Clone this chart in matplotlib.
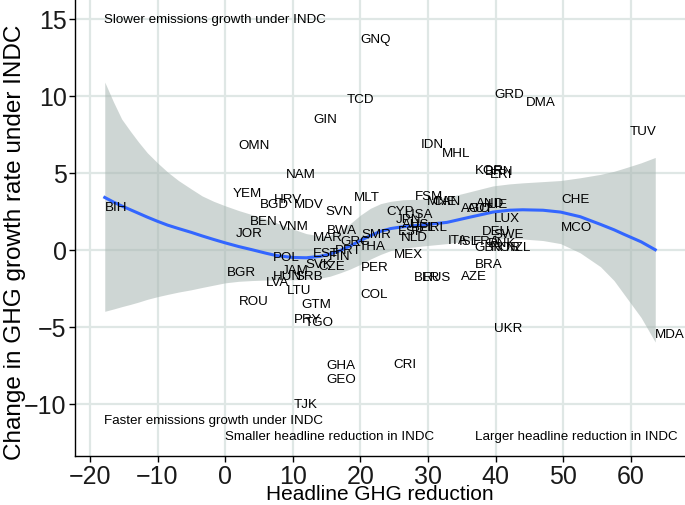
import numpy as np
import matplotlib.pyplot as plt

plt.rcParams['font.family'] = ['Liberation Sans', 'DejaVu Sans']

# country labels (placed left-aligned at the point)
countries = ["BIH", "GNQ", "TCD", "GIN", "OMN", "NAM", "YEM", "HRV", "BGD", "MDV",
             "SVN", "MLT", "BEN", "VNM", "JOR", "BWA", "MAR", "SMR", "GRC", "PRT",
             "THA", "EST", "FIN", "SVK", "CZE", "POL", "BGR", "JAM", "HUN", "SRB",
             "LVA", "LTU", "ROU", "GTM", "PRY", "TGO", "PER", "COL", "GHA", "GEO",
             "CRI", "TJK", "MEX", "NLD", "ESP", "AUS", "JPN", "CYP", "USA", "BEL",
             "IRL", "FSM", "MNE", "CAN", "IDN", "MHL", "KOR", "BRN", "ERI", "GRD",
             "DMA", "TUV", "CHE", "MCO", "MDA", "UKR", "AND", "LIE", "AGO", "AUT",
             "LUX", "DEU", "SWE", "ITA", "ISL", "FRA", "GBR", "DNK", "NOR", "NZL",
             "BRA", "AZE", "BLR", "RUS"]
reduction = [-17.8, 20.0, 18.0, 13.0, 2.0, 9.0, 1.1, 7.2, 5.1, 10.1,
             14.9, 19.0, 3.7, 7.9, 1.5, 15.0, 13.0, 20.1, 17.1, 16.3,
             19.8, 13.0, 15.3, 11.9, 13.8, 7.0, 0.2, 8.3, 7.0, 10.4,
             6.0, 9.1, 2.1, 11.2, 10.1, 11.8, 20.0, 20.0, 14.9, 14.9,
             24.9, 10.1, 24.9, 26.0, 25.6, 26.2, 25.3, 23.9, 26.6, 27.5,
             29.8, 28.0, 29.9, 30.6, 28.9, 32.0, 36.9, 38.4, 39.1, 39.8,
             44.5, 59.8, 49.7, 49.7, 63.6, 39.8, 37.1, 38.8, 34.9, 35.8,
             39.8, 38.0, 39.7, 32.9, 34.6, 36.6, 36.9, 38.8, 39.3, 41.5,
             36.9, 34.9, 27.9, 29.2]
growth_change = [2.8, 13.7, 9.8, 8.5, 6.8, 4.9, 3.7, 3.3, 3.0, 3.0,
                 2.55, 3.4, 1.9, 1.55, 1.1, 1.3, 0.8, 1.0, 0.6, 0.0,
                 0.25, -0.2, -0.4, -0.9, -1.05, -0.5, -1.45, -1.3, -1.7, -1.7,
                 -2.1, -2.6, -3.3, -3.55, -4.5, -4.7, -1.1, -2.9, -7.5, -8.4,
                 -7.4, -10.0, -0.3, 0.8, 1.2, 1.7, 2.0, 2.5, 2.3, 1.5,
                 1.5, 3.5, 3.2, 3.2, 6.9, 6.3, 5.2, 5.1, 4.9, 10.1,
                 9.6, 7.7, 3.3, 1.5, -5.5, -5.1, 3.05, 3.0, 2.7, 2.7,
                 2.05, 1.2, 1.0, 0.65, 0.6, 0.6, 0.15, 0.45, 0.2, 0.2,
                 -0.9, -1.7, -1.75, -1.75]

# loess fit with confidence band
fit_x = [-17.8, -16.5, -15.3, -14, -12.8, -11.5, -10, -8.5, -6.9, -5, -3.4, -1.7, 0,
         2, 4, 6, 7.6, 10, 12, 14, 15.5, 17, 18.5, 20, 21.5, 23, 24.5, 26.3,
         29.3, 32.8, 36, 39.6, 42, 44, 47, 49.6, 52.5, 55.5, 57.5, 59, 61.5, 63.6]
fit_y = [3.4, 3.1, 2.85, 2.6, 2.37, 2.12, 1.85, 1.6, 1.38, 1.13, 0.9, 0.67, 0.45,
         0.21, 0.0, -0.22, -0.38, -0.5, -0.52, -0.43, -0.28, -0.05, 0.25, 0.6, 0.92, 1.2, 1.38, 1.5,
         1.62, 1.78, 2.1, 2.45, 2.57, 2.6, 2.57, 2.45, 2.15, 1.65, 1.3, 1.0, 0.52, 0.0]
fit_hi = [10.9, 9.6, 8.5, 7.7, 7.0, 6.3, 5.65, 5.05, 4.5, 3.95, 3.5, 3.15, 2.86,
          2.55, 2.28, 2.0, 1.75, 1.35, 1.05, 0.9, 0.95, 1.25, 1.7, 2.25, 2.7, 3.0, 3.15, 3.25,
          3.3, 3.4, 3.75, 4.15, 4.28, 4.35, 4.43, 4.5, 4.68, 4.9, 5.1, 5.3, 5.65, 6.0]
fit_lo = [-4.0, -3.85, -3.7, -3.55, -3.4, -3.22, -3.05, -2.9, -2.75, -2.6, -2.45, -2.3, -2.15,
          -2.05, -2.0, -1.97, -1.95, -1.95, -1.92, -1.85, -1.72, -1.5, -1.25, -0.95, -0.6, -0.3, -0.05, 0.1,
          0.25, 0.4, 0.6, 0.7, 0.72, 0.7, 0.6, 0.4, -0.2, -1.1, -2.0, -2.9, -4.4, -6.0]

fig, ax = plt.subplots(figsize=(6.85, 5.06), dpi=100)
fig.subplots_adjust(left=0.1095, right=1.0, bottom=0.097, top=1.0)

ax.fill_between(fit_x, fit_lo, fit_hi, color='#a7b5b1', alpha=0.55, lw=0, zorder=2)
ax.plot(fit_x, fit_y, color='#3366FF', lw=2.2, zorder=3)

for name, xv, yv in zip(countries, reduction, growth_change):
    ax.text(xv, yv, name, ha='left', va='center', fontsize=9.6, zorder=4)

ax.text(-17.9, 15.0, "Slower emissions growth under INDC", ha='left', va='center', fontsize=9.6)
ax.text(-17.9, -11.05, "Faster emissions growth under INDC", ha='left', va='center', fontsize=9.6)
ax.text(0.0, -12.1, "Smaller headline reduction in INDC", ha='left', va='center', fontsize=9.6)
ax.text(37.0, -12.1, "Larger headline reduction in INDC", ha='left', va='center', fontsize=9.6)

ax.set_xlim(-22.2, 68.0)
ax.set_ylim(-13.4, 16.3)
ax.set_xticks(np.arange(-20, 61, 10))
ax.set_yticks(np.arange(-10, 16, 5))
ax.grid(color='#dfe7e5', lw=1.6)
ax.set_axisbelow(True)
for s in ['top', 'right']:
    ax.spines[s].set_visible(False)
for s in ['left', 'bottom']:
    ax.spines[s].set_color('black')
    ax.spines[s].set_linewidth(1.0)
ax.tick_params(labelsize=18, length=4, width=1, color='black', pad=2, labelcolor='#1a1a1a')
ax.set_xlabel("Headline GHG reduction", fontsize=15)
ax.set_ylabel("Change in GHG growth rate under INDC", fontsize=17.5)
ax.xaxis.set_label_coords(0.5, -0.062)
ax.yaxis.set_label_coords(-0.08, 0.47)

fig.savefig("out.png", dpi=100)
